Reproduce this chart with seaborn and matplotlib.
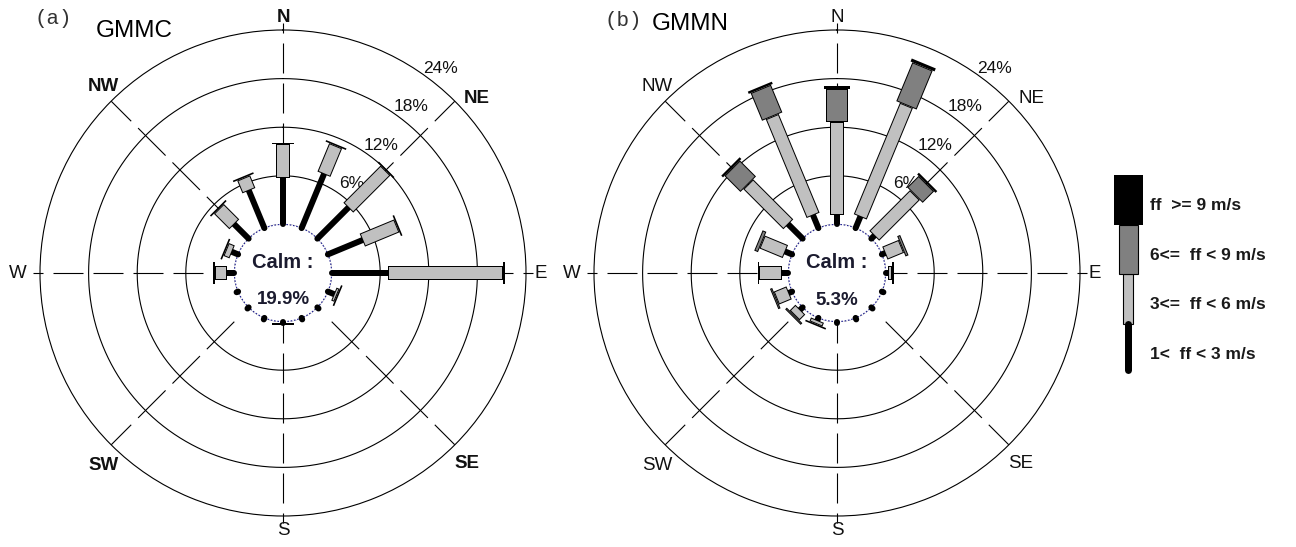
import numpy as np
import matplotlib
matplotlib.use("Agg")
import matplotlib.pyplot as plt
import seaborn as sns

# ---------------------------------------------------------------------------
# Wind frequency (%) per direction and speed class
# ---------------------------------------------------------------------------
directions = ["N", "NNE", "NE", "ENE", "E", "ESE", "SE", "SSE",
              "S", "SSW", "SW", "WSW", "W", "WNW", "NW", "NNW"]
speed_classes = ["1<  ff < 3 m/s", "3<=  ff < 6 m/s",
                 "6<=  ff < 9 m/s", "ff  >= 9 m/s"]

gmmc_1_3 = [5.7, 7.2, 5.4, 4.6, 7.0, 0.8, 0.2, 0.2, 0.2, 0.2, 0.2, 0.2, 0.9, 0.8, 2.5, 5.0]
gmmc_3_6 = [4.2, 3.8, 6.5, 4.6, 14.2, 0.4, 0.0, 0.0, 0.0, 0.0, 0.0, 0.0, 1.5, 0.8, 2.7, 1.7]
gmmc_6_9 = [0.2, 0.2, 0.2, 0.2, 0.2, 0.2, 0.0, 0.0, 0.2, 0.0, 0.0, 0.0, 0.2, 0.2, 0.2, 0.2]
gmmc_9p = [0.0] * 16
gmmc_calm = 19.9

gmmn_1_3 = [1.2, 1.5, 0.5, 0.4, 0.3, 0.2, 0.2, 0.2, 0.2, 0.3, 0.4, 0.4, 0.8, 0.9, 2.5, 1.7]
gmmn_3_6 = [11.5, 14.9, 7.1, 2.2, 0.5, 0.0, 0.0, 0.0, 0.0, 0.5, 1.0, 1.7, 2.8, 3.1, 7.0, 13.2]
gmmn_6_9 = [4.0, 5.2, 2.0, 0.4, 0.2, 0.0, 0.0, 0.0, 0.0, 0.2, 0.3, 0.3, 0.2, 0.5, 2.8, 3.7]
gmmn_9p = [0.4, 0.4, 0.3, 0.0, 0.0, 0.0, 0.0, 0.0, 0.0, 0.0, 0.0, 0.0, 0.0, 0.0, 0.3, 0.3]
gmmn_calm = 5.3

ring_values = [6, 12, 18, 24]
compass_labels = ["N", "NE", "E", "SE", "S", "SW", "W", "NW"]

# ---------------------------------------------------------------------------
# Styling
# ---------------------------------------------------------------------------
sns.set_style("white")
plt.rcParams["font.family"] = ["Liberation Sans", "DejaVu Sans"]

DPI = 100
PX = 72.0 / DPI                      # points per pixel
R_MAX = 24
R_ORIGIN = -6                        # leaves room for the calm circle
EPS = 0.12                           # about one pixel in % units

class_colors = ["black", "#c0c0c0", "#808080", "black"]
class_width_px = [6, 12, 20, 26]
class_outlined = [False, True, True, False]

# compass label placement: (angle in degrees, radius as a fraction of the outer ring)
label_place = {"N": (0, 1.05), "NE": (48, 1.075), "E": (90, 1.06), "SE": (136, 1.09),
               "S": (180, 1.06), "SW": (223, 1.085), "W": (270, 1.09), "NW": (316, 1.065)}


def frac_to_r(f):
    return R_ORIGIN + (R_MAX - R_ORIGIN) * f


def draw_rose(ax, classes, calm, bold_labels):
    ax.set_theta_zero_location("N")
    ax.set_theta_direction(-1)
    ax.set_ylim(0, R_MAX)
    ax.set_rorigin(R_ORIGIN)
    ax.grid(False)
    ax.set_xticks([])
    ax.set_yticks([])
    for name, sp in ax.spines.items():
        if name == "polar":
            sp.set_linewidth(0.8)
            sp.set_color("black")
        else:
            sp.set_visible(False)

    th_full = np.linspace(0, 2 * np.pi, 721)

    # inner rings
    for v in ring_values[:-1]:
        ax.plot(th_full, np.full_like(th_full, v), color="black", lw=0.8, zorder=1)

    # main compass axes (dashed)
    for ang in (0, 90, 180, 270):
        ax.plot(np.radians([ang, ang]), [R_ORIGIN, frac_to_r(1.028)], color="black",
                lw=0.8, ls=(0, (27, 9)), clip_on=False, zorder=1)

    # diagonal axes: a dash across every ring
    for ang in (45, 135, 225, 315):
        for v in ring_values:
            ax.plot(np.radians([ang, ang]), [v - 3.5, min(v + 1.3, R_MAX)],
                    color="black", lw=0.8, solid_capstyle="butt", zorder=1)

    # ring labels
    for v in ring_values:
        ax.text(np.radians(37.5), v + 1.9, f"{v}%", ha="center", va="center",
                fontsize=12.5, color="#111111", zorder=2)

    # compass labels
    for lab in compass_labels:
        ang, f = label_place[lab]
        ax.text(np.radians(ang), frac_to_r(f), lab, ha="center", va="center",
                fontsize=13.5, color="#111111",
                fontweight="bold" if lab in bold_labels else "normal")

    # calm disc
    ax.fill(th_full, np.zeros_like(th_full), color="white", zorder=3, clip_on=False)
    ax.plot(th_full, np.zeros_like(th_full), color="#1c1c8c", lw=0.8,
            ls=(0, (1.5, 1.5)), zorder=3.5, clip_on=False)

    # stacked speed-class bars
    for i in range(len(directions)):
        th = np.radians(i * 22.5)
        base = 0.0
        for k in range(4):
            val = classes[k][i]
            if val <= 0:
                continue
            top = base + val
            w = class_width_px[k]
            if k == 0:
                ax.plot([th, th], [base, top], color="black", lw=w * PX,
                        solid_capstyle="round", clip_on=False, zorder=4)
            elif class_outlined[k]:
                ax.plot([th, th], [base, top], color="black", lw=(w + 2) * PX,
                        solid_capstyle="butt", clip_on=False, zorder=4 + k)
                if top - base > 2 * EPS:
                    ax.plot([th, th], [base + EPS, top - EPS], color=class_colors[k],
                            lw=w * PX, solid_capstyle="butt", clip_on=False, zorder=4 + k)
            else:
                ax.plot([th, th], [base, top], color=class_colors[k], lw=w * PX,
                        solid_capstyle="butt", clip_on=False, zorder=4 + k)
            base = top

    # calm label
    ax.text(0.5, 0.5 + 11 / 486, "Calm :", transform=ax.transAxes, ha="center",
            va="center", fontsize=14.5, fontweight="bold", color="#1b1b2f", zorder=10)
    ax.text(0.5, 0.5 - 27 / 486, f"{calm}%", transform=ax.transAxes, ha="center",
            va="center", fontsize=13.5, fontweight="bold", color="#1b1b2f", zorder=10)


W_PX, H_PX = 1296, 547
fig = plt.figure(figsize=(W_PX / DPI, H_PX / DPI), dpi=DPI)
fig.patch.set_facecolor("white")


def box(x0, y0_top, w, h):
    return [x0 / W_PX, 1 - (y0_top + h) / H_PX, w / W_PX, h / H_PX]


ax_a = fig.add_axes(box(40, 30, 486, 486), projection="polar")
ax_b = fig.add_axes(box(594, 30, 486, 486), projection="polar")

draw_rose(ax_a, [gmmc_1_3, gmmc_3_6, gmmc_6_9, gmmc_9p], gmmc_calm,
          bold_labels={"N", "NE", "SE", "SW", "NW"})
draw_rose(ax_b, [gmmn_1_3, gmmn_3_6, gmmn_6_9, gmmn_9p], gmmn_calm,
          bold_labels=set())

# panel tags and station names
mono = ["Liberation Mono", "DejaVu Sans Mono"]
fig.text(53 / W_PX, 1 - 18 / H_PX, "(a)", family=mono, fontsize=15, color="#333333",
         ha="center", va="center")
fig.text(96 / W_PX, 1 - 31 / H_PX, "GMMC", fontsize=17.5, color="black",
         ha="left", va="center")
fig.text(623 / W_PX, 1 - 21 / H_PX, "(b)", family=mono, fontsize=15, color="#333333",
         ha="center", va="center")
fig.text(652 / W_PX, 1 - 24 / H_PX, "GMMN", fontsize=17.5, color="black",
         ha="left", va="center")

# speed-class key
ax_k = fig.add_axes(box(1100, 175, 190, 198))
ax_k.set_xlim(0, 190)
ax_k.set_ylim(0, 4)
ax_k.axis("off")
key_widths = [7, 10, 19, 29]
for k, lab in enumerate(speed_classes):
    if k == 0:
        ax_k.plot([28, 28], [0.07, 1.0], color="black", lw=key_widths[k] * PX,
                  solid_capstyle="round", clip_on=False)
    else:
        ax_k.bar(28, 1.0, bottom=k, width=key_widths[k], color=class_colors[k],
                 edgecolor="black", linewidth=0.8 if class_outlined[k] else 0,
                 clip_on=False)
    ax_k.text(50, k + 0.38, lab, ha="left", va="center", fontsize=12.5,
              fontweight="bold", color="#1a1a1a")

fig.savefig("out.png", dpi=DPI, facecolor="white")
